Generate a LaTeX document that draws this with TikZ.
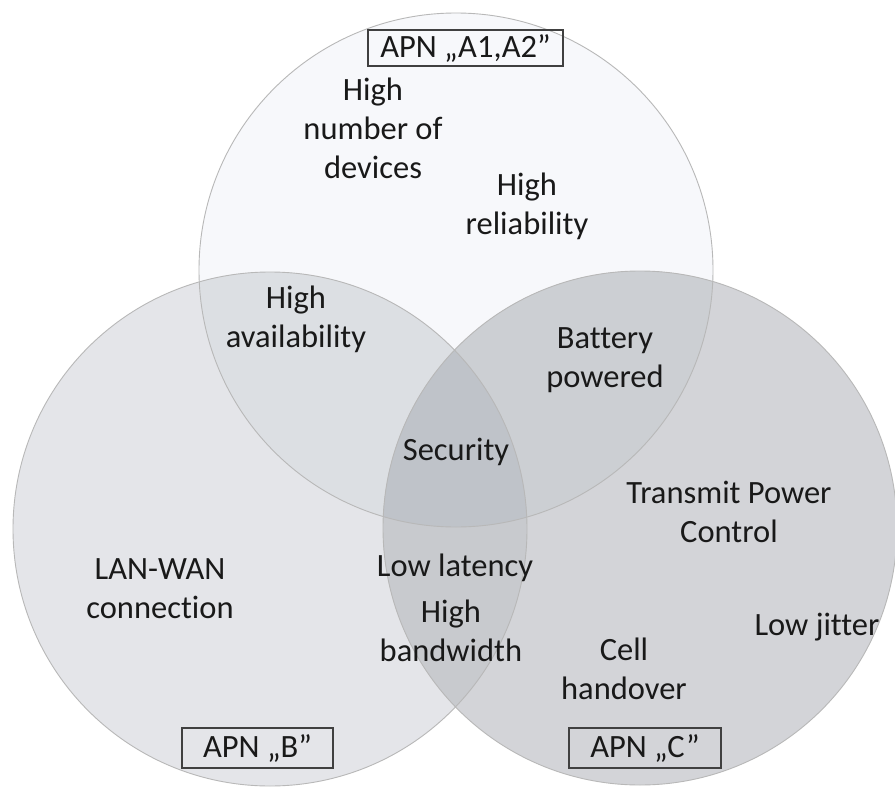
\documentclass[tikz,border=0pt]{standalone}
\usepackage{fontspec}
\setmainfont{Carlito}[Ligatures=CommonOff]
\begin{document}
\begin{tikzpicture}[x=1pt,y=-1pt,
  lbl/.style={align=center,font=\fontsize{32.5}{39}\selectfont,text=black!90,inner sep=0pt},
  apn/.style={draw=black!75,line width=1.3pt,font=\fontsize{32.5}{36}\selectfont,inner sep=0pt,text=black!90},
  rim/.style={draw=black!28,line width=0.9pt}]
\useasboundingbox (0,0) rectangle (895,787);
\fill[white] (0,0) rectangle (895,787);
\def\R{257}
\coordinate (ca) at (456,270);
\coordinate (cb) at (270,529);
\coordinate (cc) at (640,528);
% base fills
\definecolor{cA}{HTML}{F7F8FB}
\definecolor{cB}{HTML}{E4E5E9}
\definecolor{cC}{HTML}{D3D4D8}
\definecolor{cAB}{HTML}{DCDFE3}
\definecolor{cAC}{HTML}{CCCFD3}
\definecolor{cBC}{HTML}{C8CACE}
\definecolor{cABC}{HTML}{BFC3C9}
\fill[cA] (ca) circle (\R);
\fill[cB] (cb) circle (\R);
\fill[cC] (cc) circle (\R);
\begin{scope}
  \clip (ca) circle (\R);
  \fill[cAB] (cb) circle (\R);
  \fill[cAC] (cc) circle (\R);
\end{scope}
\begin{scope}
  \clip (cb) circle (\R);
  \fill[cBC] (cc) circle (\R);
  \clip (cc) circle (\R);
  \fill[cABC] (ca) circle (\R);
\end{scope}
\draw[rim] (ca) circle (\R);
\draw[rim] (cb) circle (\R);
\draw[rim] (cc) circle (\R);
% labels
\node[apn,minimum width=195,minimum height=36] (apna) at (465.5,48) {APN „A1,A2"};
\node[apn,minimum width=151,minimum height=40] (apnb) at (257.5,748) {APN „B”};
\node[apn,minimum width=152,minimum height=40] (apnc) at (645,748) {APN „C”};
\node[lbl] (devices) at (373,128) {High\\number of\\devices};
\node[lbl] (reliab) at (527,206) {High\\reliability};
\node[lbl] (avail) at (296,319) {High\\availability};
\node[lbl] (battery) at (605,360) {Battery\\powered};
\node[lbl] (security) at (456,452) {Security};
\node[lbl] (tpc) at (729,512) {Transmit Power\\Control};
\node[lbl] (lanwan) at (160,589) {LAN-WAN\\connection};
\node[lbl] (latency) at (455,568) {Low latency};
\node[lbl] (bandw) at (451,631) {High\\bandwidth};
\node[lbl] (cell) at (624,669) {Cell\\handover};
\node[lbl] (jitter) at (817,627) {Low jitter};
\end{tikzpicture}
\end{document}
